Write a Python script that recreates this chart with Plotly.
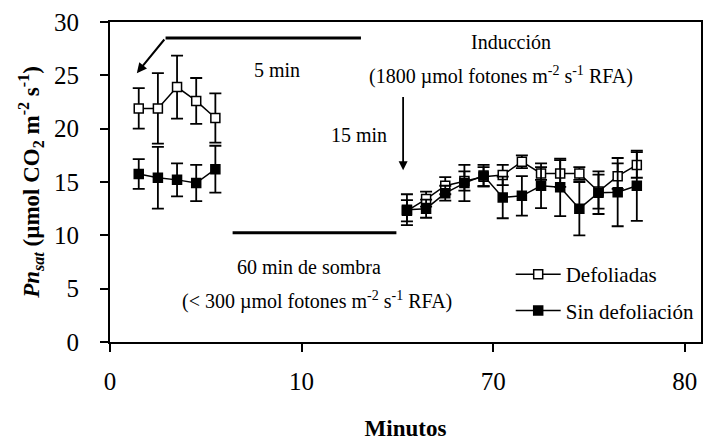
import plotly.graph_objects as go

# Posición de cada lectura en el eje (la escala tiene un corte entre 10 y 70 min)
pos_inicio = [1, 2, 3, 4, 5]
pos_induccion = list(range(15, 28))

# Pn_sat — plantas defoliadas
defol_inicio = [21.9, 21.9, 23.9, 22.6, 21.0]
defol_inicio_err = [1.9, 3.3, 2.95, 2.15, 2.3]
defol_induccion = [12.3, 13.4, 14.65, 15.1, 15.5, 15.65, 16.9, 15.8, 15.8, 15.8, 14.1, 15.55, 16.6]
defol_induccion_err = [1.0, 0.7, 0.8, 0.9, 0.9, 0.95, 0.6, 0.6, 1.25, 0.6, 1.6, 1.2, 1.2]

# Pn_sat — plantas sin defoliación
sindef_inicio = [15.75, 15.4, 15.2, 14.9, 16.2]
sindef_inicio_err = [1.4, 2.9, 1.55, 1.7, 2.2]
sindef_induccion = [12.4, 12.5, 13.95, 14.9, 15.6, 13.55, 13.7, 14.65, 14.5, 12.5, 14.0, 14.05, 14.65]
sindef_induccion_err = [1.45, 0.85, 0.7, 1.7, 1.0, 1.95, 1.85, 2.1, 2.7, 2.5, 2.0, 3.2, 3.3]

# Marcas del eje x
tick_pos = [-0.5, 9.5, 19.5, 29.5]
tick_lab = ["0", "10", "70", "80"]

FONT = "'Liberation Serif', 'Times New Roman', Times, serif"


def unir(a, b):
    return a + [None] + b


x_all = unir(pos_inicio, pos_induccion)

fig = go.Figure()

series = [
    ("Defoliadas", defol_inicio, defol_inicio_err, defol_induccion, defol_induccion_err, "white", "g1"),
    ("Sin defoliación", sindef_inicio, sindef_inicio_err, sindef_induccion, sindef_induccion_err, "black", "g2"),
]

for nombre, y1, e1, y2, e2, relleno, grupo in series:
    fig.add_trace(go.Scatter(
        x=x_all,
        y=unir(y1, y2),
        name=nombre,
        legendgroup=grupo,
        mode="lines+markers",
        line=dict(color="black", width=1.5),
        marker=dict(symbol="square", size=9, color=relleno,
                    line=dict(color="black", width=1.5)),
        error_y=dict(type="data", array=unir(e1, e2), visible=True,
                     color="black", thickness=1.8, width=6),
        connectgaps=False,
    ))

txt = dict(family=FONT, size=20, color="black")

# Anotaciones del protocolo de medición
fig.add_shape(type="line", x0=2.4, x1=12.6, y0=28.5, y1=28.5,
              line=dict(color="black", width=3))
fig.add_annotation(x=0.9, y=25.2, ax=2.4, ay=28.5, xref="x", yref="y",
                   axref="x", ayref="y", text="", showarrow=True,
                   arrowhead=2, arrowsize=1, arrowwidth=2, arrowcolor="black")
fig.add_annotation(x=8.2, y=25.5, text="5 min", showarrow=False, font=txt)

fig.add_annotation(x=20.45, y=28.1, text="Inducción", showarrow=False, font=txt)
fig.add_annotation(x=19.9, y=25.0,
                   text="(1800 µmol fotones m<sup>-2</sup> s<sup>-1</sup> RFA)",
                   showarrow=False, font=txt)
fig.add_annotation(x=14.8, y=16.1, ax=14.8, ay=23.1, xref="x", yref="y",
                   axref="x", ayref="y", text="", showarrow=True,
                   arrowhead=2, arrowsize=1, arrowwidth=1.8, arrowcolor="black")
fig.add_annotation(x=12.5, y=19.4, text="15 min", showarrow=False, font=txt)

fig.add_shape(type="line", x0=5.9, x1=14.45, y0=10.25, y1=10.25,
              line=dict(color="black", width=3))
fig.add_annotation(x=9.9, y=7.0, text="60 min de sombra", showarrow=False, font=txt)
fig.add_annotation(x=10.3, y=3.9,
                   text="(< 300 µmol fotones m<sup>-2</sup> s<sup>-1</sup> RFA)",
                   showarrow=False, font=txt)

fig.update_layout(
    width=707, height=443,
    margin=dict(l=110, r=4, t=22, b=101),
    paper_bgcolor="white", plot_bgcolor="white",
    font=dict(family=FONT, color="black", size=20),
    showlegend=True,
    legend=dict(x=0.678, y=0.275, xanchor="left", yanchor="top",
                font=dict(family=FONT, size=21, color="black"),
                bgcolor="rgba(0,0,0,0)", itemwidth=45,
                traceorder="grouped", tracegroupgap=6),
)

fig.update_xaxes(
    range=[-0.5, 30.35], tickmode="array", tickvals=tick_pos, ticktext=tick_lab,
    ticks="outside", ticklen=8, tickwidth=1.5, tickcolor="black",
    showline=True, linewidth=2, linecolor="black", mirror=True,
    showgrid=False, zeroline=False, ticklabelstandoff=8,
    tickfont=dict(family=FONT, size=25),
    title=dict(text="<b>Minutos</b>", font=dict(family=FONT, size=23), standoff=26),
)
fig.update_yaxes(
    range=[0, 30], tickvals=[0, 5, 10, 15, 20, 25, 30],
    ticks="outside", ticklen=8, tickwidth=1.5, tickcolor="black",
    showline=True, linewidth=2, linecolor="black", mirror=True,
    showgrid=False, zeroline=False, ticklabelstandoff=16,
    tickfont=dict(family=FONT, size=25),
    title=dict(text="<b><i>Pn</i><sub><i>sat</i></sub> (µmol CO<sub>2</sub> m<sup>-2</sup> s<sup>-1</sup>)</b>",
               font=dict(family=FONT, size=23), standoff=8),
)

fig.write_html("out.html")
